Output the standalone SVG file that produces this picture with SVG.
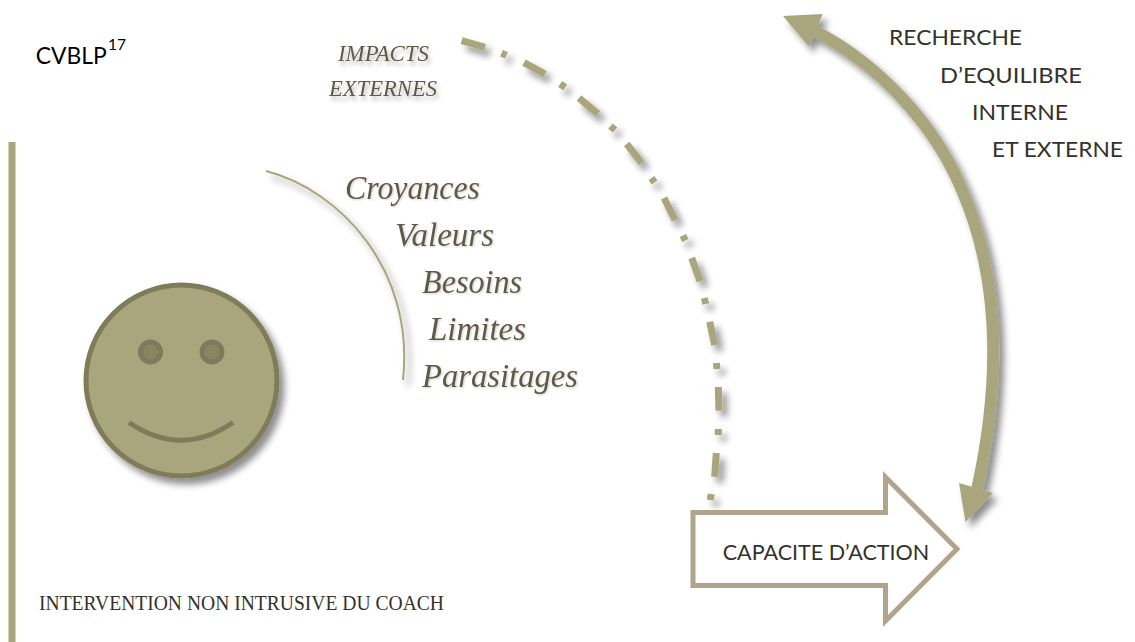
<svg xmlns="http://www.w3.org/2000/svg" width="1135" height="642" viewBox="0 0 1135 642">
<defs>
<filter id="sh" x="-30%" y="-30%" width="170%" height="170%"><feGaussianBlur in="SourceAlpha" stdDeviation="3.5"/><feOffset dx="5" dy="6"/><feComponentTransfer><feFuncA type="linear" slope="0.45"/></feComponentTransfer><feMerge><feMergeNode/><feMergeNode in="SourceGraphic"/></feMerge></filter>
<filter id="tsh" x="-10%" y="-30%" width="120%" height="170%"><feGaussianBlur in="SourceAlpha" stdDeviation="2"/><feOffset dx="2" dy="4"/><feComponentTransfer><feFuncA type="linear" slope="0.3"/></feComponentTransfer><feMerge><feMergeNode/><feMergeNode in="SourceGraphic"/></feMerge></filter>
<filter id="bsh" x="-10%" y="-30%" width="120%" height="170%"><feGaussianBlur in="SourceAlpha" stdDeviation="1"/><feOffset dx="1" dy="1"/><feComponentTransfer><feFuncA type="linear" slope="0.2"/></feComponentTransfer><feMerge><feMergeNode/><feMergeNode in="SourceGraphic"/></feMerge></filter>
</defs>
<style>
.sans{font-family:Lato,"Liberation Sans",Arial,sans-serif;fill:#33322b;font-size:22px}
.big{font-family:"Liberation Serif","Times New Roman",serif;font-style:italic;fill:#5f5a45;font-size:34px}
.small{font-family:"Liberation Serif","Times New Roman",serif;font-style:italic;fill:#5f5a45;font-size:23px}
.olive{fill:#a9a57c}
</style>
<rect width="1135" height="642" fill="#ffffff"/>
<rect id="bar" class="olive" x="8.5" y="142" width="7" height="500"/>
<g id="smiley">
<circle cx="181.5" cy="380.5" r="95.5" fill="#a9a57c" stroke="#7f7b5a" stroke-width="5" filter="url(#sh)"/>
<circle cx="150.5" cy="352" r="10" fill="#8a8562" stroke="#7f7b5a" stroke-width="5"/>
<circle cx="212" cy="352" r="10" fill="#8a8562" stroke="#7f7b5a" stroke-width="5"/>
<path d="M129,422.5 Q181,458 233,422.5" fill="none" stroke="#7f7b5a" stroke-width="5"/>
</g>
<g id="connectors">
<path id="arc" filter="url(#sh)" d="M266,171 C340,190 415,270 403,380" fill="none" stroke="#a9a57c" stroke-width="2"/>
<path id="dashdot" filter="url(#sh)" fill="none" stroke="#a9a57c" stroke-width="7" d="M461.7,40.7L485,47.3M501.5,53.2L506.5,55.4M524,62.7L545,74M560.2,84L565.2,87.4M579,98L598,114M610.5,126L615,130M626.7,144L641.7,163M651.5,178L654.5,182.5M664,198L675,220M683,235.5L685.2,240.5M691.7,258L700,281M704.3,298L705.7,304M709.7,321.7L714.7,345M716.4,363L717,369M718.3,387L719,410.7M718.3,429L718.3,435M716.3,453L714.7,476.7M711.2,494L710.2,500"/>
<g id="double-arrow" filter="url(#sh)">
<path d="M815,31 C880,65 935,125 962,190 C990,255 1008,350 977,490" fill="none" stroke="#a9a57c" stroke-width="12"/>
<polygon class="olive" points="783,16 822.7,14 809,46.7"/>
<polygon class="olive" points="959,483 993,493 965.5,522"/>
</g>
</g>
<g id="capacite">
<polygon points="693,512.5 885.5,512.5 885.5,477 957,549 885.5,621 885.5,585.5 693,585.5" fill="#ffffff" stroke="#b2a48c" stroke-width="5"/>
<text class="sans" x="722.7" y="560" textLength="206.5" lengthAdjust="spacingAndGlyphs">CAPACITE D’ACTION</text>
</g>
<g id="cvblp">
<text x="35.7" y="64" textLength="71" lengthAdjust="spacingAndGlyphs" style="font-family:Lato,'Liberation Sans',sans-serif;font-size:24px;fill:#000">CVBLP</text>
<text x="108" y="49.5" textLength="18" lengthAdjust="spacingAndGlyphs" style="font-family:Lato,'Liberation Sans',sans-serif;font-size:16px;fill:#000">17</text>
</g>
<g id="recherche">
<text class="sans" x="889" y="45" textLength="133" lengthAdjust="spacingAndGlyphs">RECHERCHE</text>
<text class="sans" x="940" y="83" textLength="142" lengthAdjust="spacingAndGlyphs">D’EQUILIBRE</text>
<text class="sans" x="972" y="120" textLength="96" lengthAdjust="spacingAndGlyphs">INTERNE</text>
<text class="sans" x="992" y="157" textLength="131" lengthAdjust="spacingAndGlyphs">ET EXTERNE</text>
</g>
<g id="impacts" filter="url(#tsh)">
<text class="small" x="338" y="61" textLength="91" lengthAdjust="spacingAndGlyphs">IMPACTS</text>
<text class="small" x="329" y="96" textLength="108" lengthAdjust="spacingAndGlyphs">EXTERNES</text>
</g>
<g id="cvblp-list" filter="url(#bsh)">
<text class="big" x="345" y="199" textLength="135" lengthAdjust="spacingAndGlyphs">Croyances</text>
<text class="big" x="395" y="246" textLength="99" lengthAdjust="spacingAndGlyphs">Valeurs</text>
<text class="big" x="422" y="293" textLength="100" lengthAdjust="spacingAndGlyphs">Besoins</text>
<text class="big" x="429" y="340" textLength="97" lengthAdjust="spacingAndGlyphs">Limites</text>
<text class="big" x="422" y="386.5" textLength="156" lengthAdjust="spacingAndGlyphs">Parasitages</text>
</g>
<text id="intervention" x="39" y="609.5" textLength="405" lengthAdjust="spacingAndGlyphs" style="font-family:'Liberation Serif',serif;font-size:21px;fill:#33322b">INTERVENTION NON INTRUSIVE DU COACH</text>
</svg>
